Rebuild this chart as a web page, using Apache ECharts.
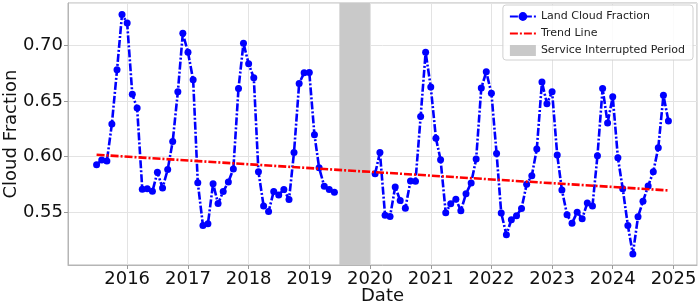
<!DOCTYPE html>
<html>
<head>
<meta charset="utf-8">
<script src="https://cdn.jsdelivr.net/npm/echarts@6/dist/echarts.min.js"></script>
<style>
  html, body { margin: 0; padding: 0; background: #fff; }
  #chart { width: 699px; height: 308px; }
</style>
</head>
<body>
<div id="chart"></div>
<script>
// monthly land cloud fraction
const seg1Start = [2015, 7];
const seg1Values = [
  0.5926, 0.5968, 0.5959, 0.6293, 0.6779, 0.7277,
  0.7200, 0.6559, 0.6436, 0.5705, 0.5711, 0.5687, 0.5858, 0.5717, 0.5884, 0.6135, 0.6582, 0.7107,
  0.6937, 0.6690, 0.5765, 0.5380, 0.5395, 0.5756, 0.5577, 0.5685, 0.5772, 0.5889, 0.6612, 0.7018,
  0.6833, 0.6708, 0.5864, 0.5556, 0.5506, 0.5685, 0.5655, 0.5703, 0.5614, 0.6037, 0.6657, 0.6752,
  0.6755, 0.6195, 0.5900, 0.5733, 0.5703, 0.5679
];
const seg2Start = [2020, 2];
const seg2Values = [
  0.5845, 0.6036, 0.5472, 0.5462, 0.5727, 0.5605, 0.5536, 0.5780, 0.5777, 0.6359, 0.6937,
  0.6624, 0.6165, 0.5971, 0.5494, 0.5575, 0.5617, 0.5513, 0.5665, 0.5763, 0.5977, 0.6616, 0.6761,
  0.6568, 0.6028, 0.5492, 0.5298, 0.5432, 0.5468, 0.5533, 0.5751, 0.5828, 0.6067, 0.6669, 0.6475,
  0.6583, 0.6013, 0.5700, 0.5476, 0.5401, 0.5500, 0.5440, 0.5583, 0.5556, 0.6007, 0.6612, 0.6302,
  0.6538, 0.5989, 0.5711, 0.5380, 0.5124, 0.5458, 0.5598, 0.5735, 0.5863, 0.6078, 0.6550, 0.6320
];
const trendDates = ['2015-07-01', '2024-12-01'];
const trendValues = [0.6016, 0.5695];
const gapRange = ['2019-07-01', '2020-01-01'];

const FONT = 'DejaVu Sans';

function monthSeries(start, values) {
  return values.map((v, i) => {
    const m = start[1] - 1 + i;
    const y = start[0] + Math.floor(m / 12);
    const mm = String((m % 12) + 1).padStart(2, '0');
    return [`${y}-${mm}-01`, v];
  });
}

const chart = echarts.init(document.getElementById('chart'), null, { renderer: 'canvas' });

const blueLine = {
  type: 'line',
  name: 'Land Cloud Fraction',
  symbol: 'circle',
  symbolSize: 7,
  color: '#0000ff',
  lineStyle: { width: 2.6, color: '#0000ff', type: [8, 2, 2, 2] },
  itemStyle: { color: '#0000ff' },
  z: 3,
};

const YEAR = 365 * 24 * 3600 * 1000;

chart.setOption({
  animation: false,
  textStyle: { fontFamily: FONT },
  grid: {
    left: 68, right: 2, top: 3, bottom: 43,
    outerBoundsMode: 'none',
    show: true, borderColor: '#b5b5b5', borderWidth: 1,
  },
  legend: {
    orient: 'vertical',
    right: 6,
    top: 5,
    itemWidth: 26,
    itemHeight: 11,
    itemGap: 6,
    padding: [6, 8, 4, 6],
    backgroundColor: 'rgba(255,255,255,0.85)',
    borderColor: '#d0d0d0',
    borderWidth: 1,
    borderRadius: 3,
    textStyle: { fontFamily: FONT, fontSize: 11, color: '#222' },
    data: [
      { name: 'Land Cloud Fraction' },
      { name: 'Trend Line', itemStyle: { opacity: 0 } },
      { name: 'Service Interrupted Period', icon: 'rect' },
    ],
  },
  xAxis: {
    type: 'time',
    min: '2015-01-10',
    max: '2025-05-22',
    minInterval: YEAR,
    maxInterval: YEAR + 2 * 24 * 3600 * 1000,
    name: 'Date',
    nameLocation: 'middle',
    nameGap: 22,
    nameMoveOverlap: false,
    nameTextStyle: { fontFamily: FONT, fontSize: 18, color: '#111' },
    axisLine: { show: true, lineStyle: { color: '#b5b5b5' } },
    axisTick: { show: true, length: 4, lineStyle: { color: '#999' } },
    axisLabel: { formatter: '{yyyy}', fontFamily: FONT, fontSize: 18, color: '#111', margin: 5, showMinLabel: false, showMaxLabel: false },
    splitLine: { show: true, lineStyle: { color: '#e3e3e3', width: 1 } },
  },
  yAxis: {
    type: 'value',
    min: 0.5025,
    max: 0.738,
    name: 'Cloud Fraction',
    nameLocation: 'middle',
    nameGap: 48,
    nameMoveOverlap: false,
    nameTextStyle: { fontFamily: FONT, fontSize: 18, color: '#111' },
    axisLine: { show: true, lineStyle: { color: '#b5b5b5' } },
    axisTick: { show: true, length: 4, lineStyle: { color: '#999' } },
    axisLabel: {
      fontFamily: FONT, fontSize: 18, color: '#111', margin: 5,
      showMinLabel: false, showMaxLabel: false,
      formatter: v => v.toFixed(2),
    },
    splitLine: { show: true, lineStyle: { color: '#e3e3e3', width: 1 } },
  },
  series: [
    {
      type: 'line',
      name: 'Service Interrupted Period',
      data: [],
      color: '#c9c9c9',
      itemStyle: { color: '#c9c9c9' },
      markArea: {
        silent: true,
        itemStyle: { color: '#c9c9c9' },
        data: [[{ xAxis: gapRange[0] }, { xAxis: gapRange[1] }]],
      },
      z: 1,
    },
    Object.assign({}, blueLine, { data: monthSeries(seg1Start, seg1Values) }),
    Object.assign({}, blueLine, { data: monthSeries(seg2Start, seg2Values) }),
    {
      type: 'line',
      name: 'Trend Line',
      data: trendDates.map((d, i) => [d, trendValues[i]]),
      symbol: 'none',
      color: '#ff0000',
      lineStyle: { width: 2.6, color: '#ff0000', type: [8, 2, 2, 2] },
      z: 4,
    },
  ],
});
</script>
</body>
</html>
